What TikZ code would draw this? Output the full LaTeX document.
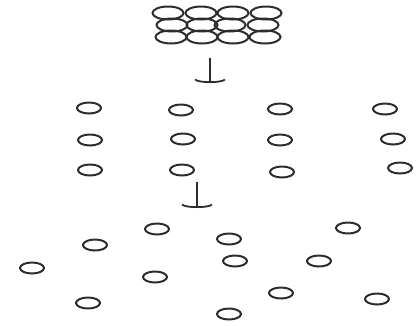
\documentclass[tikz,border=0pt]{standalone}
\usepackage{tikz}
\usetikzlibrary{shapes.geometric, arrows.meta}
\definecolor{pgray}{RGB}{45, 45, 45}

\begin{document}
\begin{tikzpicture}[
    x=1pt, y=-1pt,
    packed/.style={draw=pgray, ellipse, line width=2pt, minimum width=31pt, minimum height=13pt, inner sep=0pt},
    loose/.style={draw=pgray, ellipse, line width=2pt, minimum width=24pt, minimum height=11pt, inner sep=0pt},
    flow/.style={draw=pgray, line width=2.2pt, -{Arc Barb[width=11mm, length=1.3mm, line width=1.8pt]}},
]
    \useasboundingbox (0,0) rectangle (419,325);

    % Packed cluster
    \node[packed] (p11) at (168,13) {};
    \node[packed] (p12) at (201,13) {};
    \node[packed] (p13) at (233,13) {};
    \node[packed] (p14) at (266,13) {};
    \node[packed] (p21) at (172,25) {};
    \node[packed] (p22) at (202,25) {};
    \node[packed] (p23) at (230,25) {};
    \node[packed] (p24) at (263,25) {};
    \node[packed] (p31) at (171,37) {};
    \node[packed] (p32) at (202,37) {};
    \node[packed] (p33) at (233,37) {};
    \node[packed] (p34) at (265,37) {};

    % Arrow 1
    \coordinate (a1top) at (210,58);
    \coordinate (a1bot) at (210,83);
    \draw[flow] (a1top) -- (a1bot);

    % Grid, row 1
    \node[loose] (g11) at (89,108) {};
    \node[loose] (g12) at (181,110) {};
    \node[loose] (g13) at (280,109) {};
    \node[loose] (g14) at (385,109) {};
    % Grid, row 2
    \node[loose] (g21) at (90,140) {};
    \node[loose] (g22) at (183,139) {};
    \node[loose] (g23) at (280,140) {};
    \node[loose] (g24) at (393,139) {};
    % Grid, row 3
    \node[loose] (g31) at (90,170) {};
    \node[loose] (g32) at (182,170) {};
    \node[loose] (g33) at (282,172) {};
    \node[loose] (g34) at (400,168) {};

    % Arrow 2
    \coordinate (a2top) at (197,182);
    \coordinate (a2bot) at (197,208);
    \draw[flow] (a2top) -- (a2bot);

    % Scattered
    \node[loose] (s1) at (157,229) {};
    \node[loose] (s2) at (95,245) {};
    \node[loose] (s3) at (229,239) {};
    \node[loose] (s4) at (348,228) {};
    \node[loose] (s5) at (32,268) {};
    \node[loose] (s6) at (235,261) {};
    \node[loose] (s7) at (319,261) {};
    \node[loose] (s8) at (155,277) {};
    \node[loose] (s9) at (88,303) {};
    \node[loose] (s10) at (281,293) {};
    \node[loose] (s11) at (377,299) {};
    \node[loose] (s12) at (229,314) {};
\end{tikzpicture}
\end{document}
